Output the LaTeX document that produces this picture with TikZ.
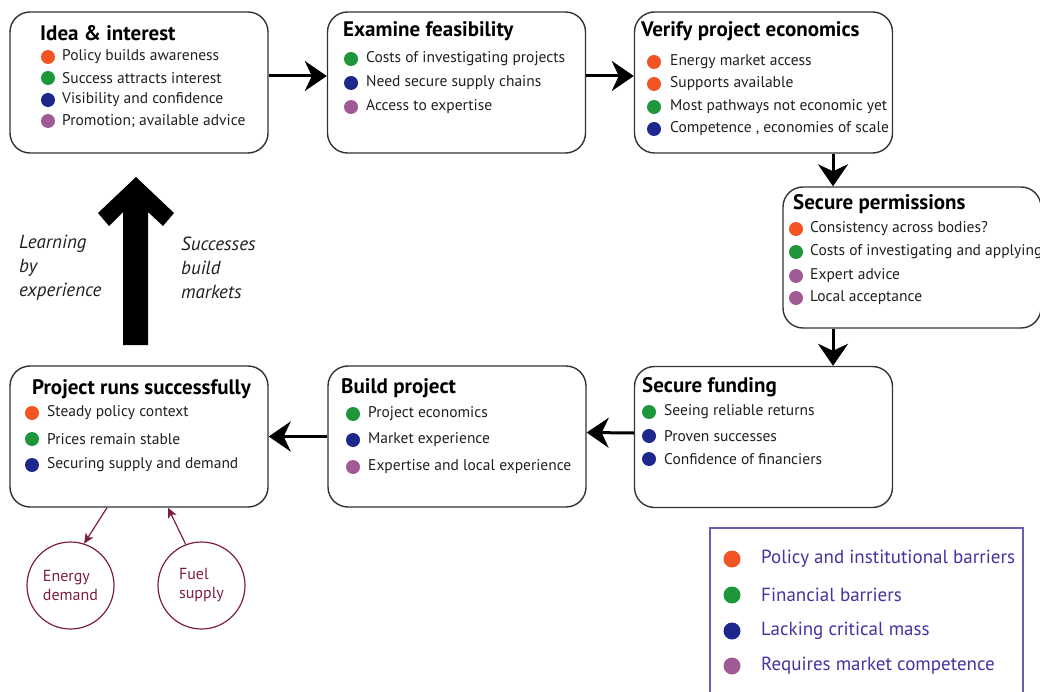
\documentclass[tikz,border=0pt]{standalone}
\usepackage{fontspec}
\setmainfont{PT Sans}
\usetikzlibrary{arrows.meta}
\definecolor{pol}{RGB}{242,85,35}
\definecolor{fin}{RGB}{30,150,60}
\definecolor{mass}{RGB}{30,40,140}
\definecolor{comp}{RGB}{160,90,150}
\definecolor{maroon}{RGB}{125,30,65}
\definecolor{legc}{RGB}{70,50,160}
\begin{document}
\begin{tikzpicture}[x=1pt,y=-1pt,
  box/.style={draw=black!80,line width=1.4pt,rounded corners=20pt,minimum width=258pt,minimum height=141pt,inner sep=0pt},
  title/.style={anchor=west,inner sep=0pt,font=\fontsize{21}{24}\selectfont\bfseries},
  item/.style={anchor=west,inner sep=0pt,font=\fontsize{15.5}{18}\selectfont,text=black!88},
  flow/.style={line width=3pt,-{Stealth[length=22pt,width=30pt,inset=7pt]}},
  src/.style={circle,draw=maroon,line width=1.2pt,minimum size=87pt,inner sep=0pt,text=maroon,align=left,font=\fontsize{16}{19}\selectfont},
  thin/.style={draw=maroon,line width=1.2pt,-{Stealth[length=10pt,width=9pt,inset=2.5pt]}},
  note/.style={anchor=west,inner sep=0pt,align=left,font=\fontsize{19}{24}\selectfont\itshape,text=black!88},
  leg/.style={anchor=west,inner sep=0pt,font=\fontsize{19}{22}\selectfont,text=legc}]
\useasboundingbox (0,0) rectangle (1040,692);
\node[box] (idea) at (139,82.5) {};
\node[box] (feas) at (456.5,82.5) {};
\node[box] (verify) at (763.5,82.5) {};
\node[box] (permit) at (912,257.5) {};
\node[box] (funding) at (763.5,437) {};
\node[box] (build) at (457,436.5) {};
\node[box] (runs) at (139,436.5) {};
\node[title] (ideah) at (40,33) {Idea \& interest};
\fill[pol] (48,57) circle (7pt);
\node[item] (idea1) at (62,57) {Policy builds awareness};
\fill[fin] (48,78) circle (7pt);
\node[item] (idea2) at (62,78) {Success attracts interest};
\fill[mass] (48,100) circle (7pt);
\node[item] (idea3) at (62,100) {Visibility and confidence};
\fill[comp] (48,121) circle (7pt);
\node[item] (idea4) at (62,121) {Promotion; available advice};
\node[title] (feash) at (343,31) {Examine feasibility};
\fill[fin] (351,59) circle (7pt);
\node[item] (feas1) at (366,59) {Costs of investigating projects};
\fill[mass] (351,83) circle (7pt);
\node[item] (feas2) at (366,83) {Need secure supply chains};
\fill[comp] (351,107) circle (7pt);
\node[item] (feas3) at (366,107) {Access to expertise};
\node[title] (verifyh) at (641,31) {Verify project economics};
\fill[pol] (654,62) circle (7pt);
\node[item] (verify1) at (670,62) {Energy market access};
\fill[pol] (654,84) circle (7pt);
\node[item] (verify2) at (670,84) {Supports available};
\fill[fin] (654,107) circle (7pt);
\node[item] (verify3) at (670,107) {Most pathways not economic yet};
\fill[mass] (654,129) circle (7pt);
\node[item] (verify4) at (670,129) {Competence , economies of scale};
\node[title] (permith) at (793,204) {Secure permissions};
\fill[pol] (796,229) circle (7pt);
\node[item] (permit1) at (810,229) {Consistency across bodies?};
\fill[fin] (796,252) circle (7pt);
\node[item] (permit2) at (810,252) {Costs of investigating and applying};
\fill[comp] (796,276) circle (7pt);
\node[item] (permit3) at (810,276) {Expert advice};
\fill[comp] (796,298) circle (7pt);
\node[item] (permit4) at (810,298) {Local acceptance};
\node[title] (fundingh) at (642,387) {Secure funding};
\fill[fin] (649,412) circle (7pt);
\node[item] (funding1) at (664,412) {Seeing reliable returns};
\fill[mass] (649,436) circle (7pt);
\node[item] (funding2) at (664,436) {Proven successes};
\fill[mass] (649,459) circle (7pt);
\node[item] (funding3) at (664,459) {Confidence of financiers};
\node[title] (buildh) at (341,388) {Build project};
\fill[fin] (353,414) circle (7pt);
\node[item] (build1) at (368,414) {Project economics};
\fill[mass] (353,440) circle (7pt);
\node[item] (build2) at (368,440) {Market experience};
\fill[comp] (353,467) circle (7pt);
\node[item] (build3) at (368,467) {Expertise and local experience};
\node[title] (runsh) at (32,389) {Project runs successfully};
\fill[pol] (32,413) circle (7pt);
\node[item] (runs1) at (47,413) {Steady policy context};
\fill[fin] (32,439) circle (7pt);
\node[item] (runs2) at (47,439) {Prices remain stable};
\fill[mass] (32,465) circle (7pt);
\node[item] (runs3) at (47,465) {Securing supply and demand};
\draw[flow] ([yshift=6.5pt]idea.east) -- ([yshift=6.5pt]feas.west);
\draw[flow] ([yshift=6.5pt]feas.east) -- ([yshift=6.5pt]verify.west);
\draw[flow] ([xshift=69.5pt]verify.south) -- ([xshift=-79pt]permit.north);
\draw[flow] ([xshift=-79pt]permit.south) -- ([xshift=69.5pt]funding.north);
\draw[flow] ([yshift=4pt]funding.west) -- ([yshift=4pt]build.east);
\draw[flow] (build.west) -- (runs.east);
\fill (123,345) -- (123,212) -- (109,226) -- (98,213) -- (136,177) -- (174,213) -- (163,226) -- (148,212) -- (148,345) -- cycle;
\node[note] (learn) at (19,268) {Learning\\by\\experience};
\node[note] (succ) at (181,268) {Successes\\build\\markets};
\node[src] (energy) at (70.5,585.5) {Energy\\demand};
\node[src] (fuel) at (201.5,585.5) {Fuel\\supply};
\draw[thin] ([xshift=-32pt]runs.south) -- (energy.72);
\draw[thin] (fuel.111) -- ([xshift=29pt]runs.south);
\draw[legc!80,line width=1.3pt] (710,700) -- (710,528) -- (1023,528) -- (1023,700);
\fill[pol] (732,559) circle (8.5pt);
\node[leg] (leg1) at (761,559) {Policy and institutional barriers};
\fill[fin] (732,595) circle (8.5pt);
\node[leg] (leg2) at (761,595) {Financial barriers};
\fill[mass] (732,631) circle (8.5pt);
\node[leg] (leg3) at (761,631) {Lacking critical mass};
\fill[comp] (732,666) circle (8.5pt);
\node[leg] (leg4) at (761,666) {Requires market competence};
\end{tikzpicture}
\end{document}
